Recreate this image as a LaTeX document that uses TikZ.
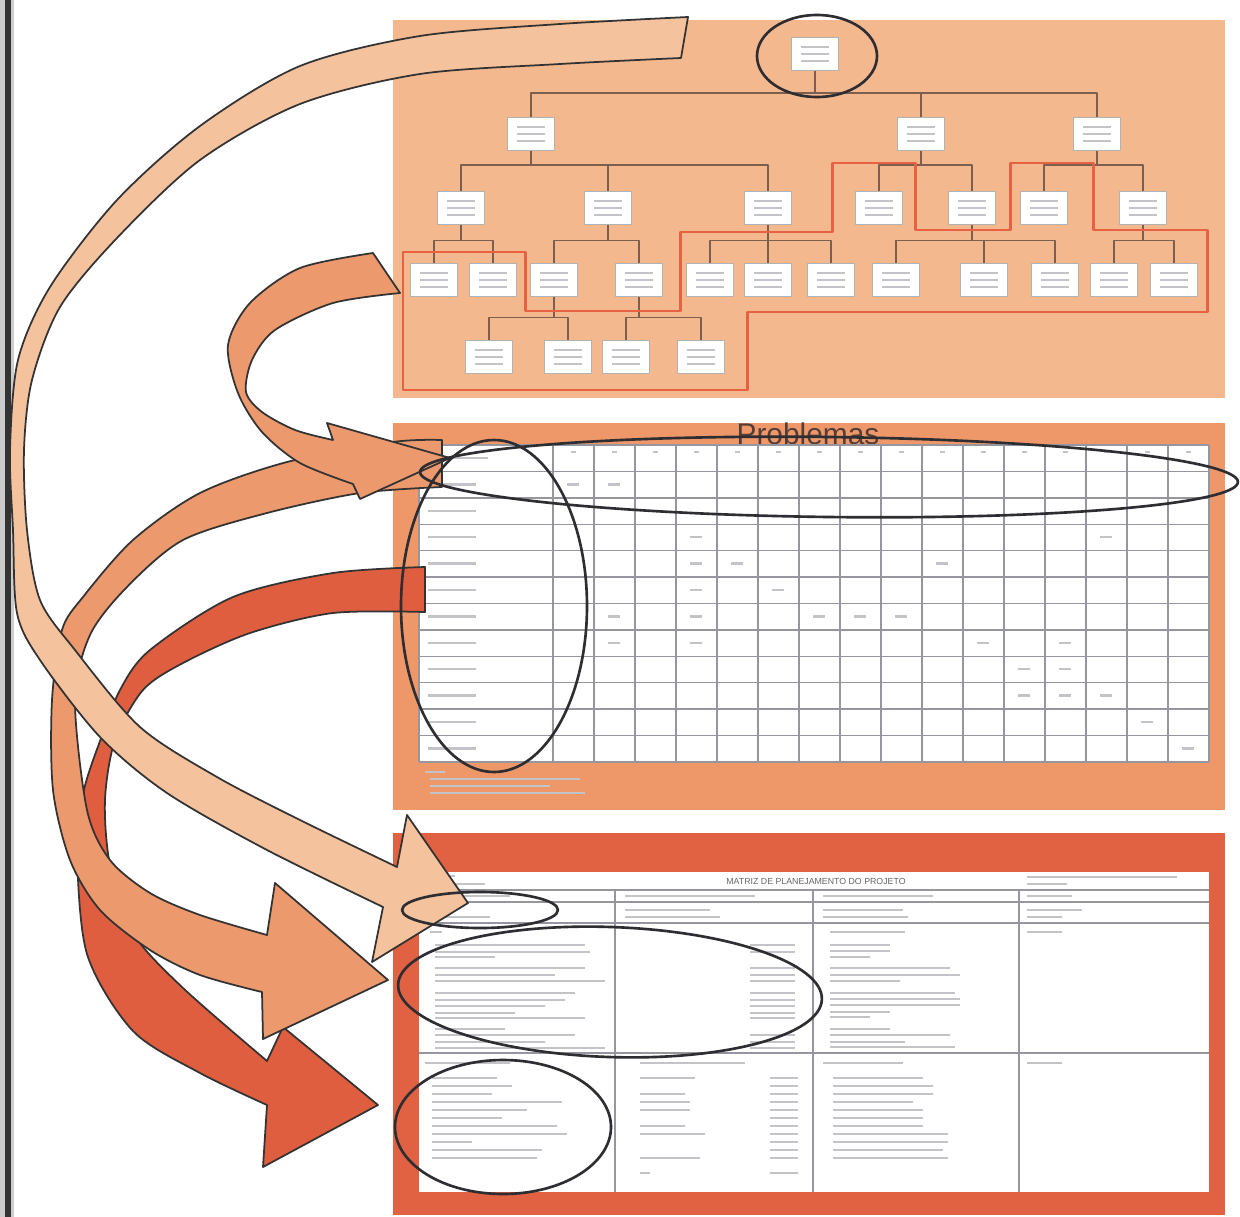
\documentclass[tikz,border=0pt]{standalone}
\usepackage{fontspec}
\setmainfont{Liberation Sans}

\definecolor{panelA}{RGB}{243,184,142}
\definecolor{panelB}{RGB}{238,152,106}
\definecolor{panelC}{RGB}{225,98,66}
\definecolor{arrLight}{RGB}{245,194,158}
\definecolor{arrMid}{RGB}{237,153,110}
\definecolor{arrRed}{RGB}{224,94,64}
\definecolor{treeLine}{RGB}{125,95,80}
\definecolor{hiRed}{RGB}{230,98,66}
\definecolor{ringCol}{RGB}{45,45,50}
\definecolor{gridCol}{RGB}{150,150,160}
\definecolor{txtGray}{RGB}{195,195,200}

\tikzset{
  tbox/.style={draw=gray!60, fill=white, minimum width=4.7mm, minimum height=3.3mm,
    inner sep=0pt, line width=0.4pt,
    path picture={\foreach \dy in {0.7,0,-0.7}
      \draw[txtGray, line width=0.5pt] ([xshift=-1.4mm, yshift=\dy mm]path picture bounding box.center) -- ++(2.8mm,0);}},
  link/.style={treeLine, line width=0.45pt},
  ribbon/.style={draw=black!80, line width=0.5pt, line join=round},
  ring/.style={ringCol, line width=0.75pt},
  grid/.style={gridCol, line width=0.4pt},
  bar/.style={txtGray, line width=0.7pt},
}

\begin{document}
\begin{tikzpicture}[x=0.1mm, y=-0.1mm, line join=round]
  \useasboundingbox (0,0) rectangle (1240,1217);
  \fill[white] (0,0) rectangle (1240,1217);
  % binding shadow
  \fill[black!20] (0,0) rectangle (14,1217);
  \fill[black!80] (5,0) rectangle (11,1217);

  % Panels
  \fill[panelA] (393,20) rectangle (1225,398);
  \fill[panelB] (393,423) rectangle (1225,810);
  \fill[panelC] (393,833) rectangle (1225,1215);

  % Tree: levels
  \node[tbox] (R) at (815,54) {};
  \node[tbox] (A) at (531,134) {};
  \node[tbox] (B) at (921,134) {};
  \node[tbox] (C) at (1097,134) {};
  \node[tbox] (A1) at (461,208) {};
  \node[tbox] (A2) at (608,208) {};
  \node[tbox] (A3) at (768,208) {};
  \node[tbox] (B1) at (879,208) {};
  \node[tbox] (B2) at (972,208) {};
  \node[tbox] (C1) at (1044,208) {};
  \node[tbox] (C2) at (1143,208) {};
  \node[tbox] (A1a) at (434,280) {};
  \node[tbox] (A1b) at (493,280) {};
  \node[tbox] (A2a) at (554,280) {};
  \node[tbox] (A2b) at (639,280) {};
  \node[tbox] (A3a) at (710,280) {};
  \node[tbox] (A3b) at (768,280) {};
  \node[tbox] (A3c) at (831,280) {};
  \node[tbox] (B2a) at (896,280) {};
  \node[tbox] (B2b) at (984,280) {};
  \node[tbox] (B2c) at (1055,280) {};
  \node[tbox] (C2a) at (1114,280) {};
  \node[tbox] (C2b) at (1174,280) {};
  \node[tbox] (A2a1) at (489,357) {};
  \node[tbox] (A2a2) at (568,357) {};
  \node[tbox] (A2b1) at (626,357) {};
  \node[tbox] (A2b2) at (701,357) {};

  % Tree: links
  \foreach \c in {A,B,C} \draw[link] (R.south) -- ++(0,22) -| (\c.north);
  \foreach \c in {A1,A2,A3} \draw[link] (A.south) -- ++(0,14) -| (\c.north);
  \foreach \c in {B1,B2} \draw[link] (B.south) -- ++(0,14) -| (\c.north);
  \foreach \c in {C1,C2} \draw[link] (C.south) -- ++(0,14) -| (\c.north);
  \foreach \p/\c in {A1/A1a,A1/A1b,A2/A2a,A2/A2b,A3/A3a,A3/A3b,A3/A3c,B2/B2a,B2/B2b,B2/B2c,C2/C2a,C2/C2b}
    \draw[link] (\p.south) -- ++(0,15.5) -| (\c.north);
  \foreach \p/\c in {A2a/A2a1,A2a/A2a2,A2b/A2b1,A2b/A2b2}
    \draw[link] (\p.south) -- ++(0,20.5) -| (\c.north);

  % Tree: highlighted outline
  \draw[hiRed, line width=0.85pt] (403,252) -- (525,252) -- (525,311) -- (680,311) -- (680,232)
    -- (832,232) -- (832,163) -- (915,163) -- (915,230) -- (1010,230) -- (1010,163)
    -- (1093,163) -- (1093,230) -- (1207,230) -- (1207,312) -- (747,312) -- (747,390)
    -- (403,390) -- cycle;

  % Matrix of problems
  \node[font=\fontsize{8.5}{10}\selectfont, text={rgb,255:red,85;green,62;blue,55}] (probTitle) at (808,434) {Problemas};
  \fill[white] (419,445) rectangle (1209,762);
  \foreach \r in {0,...,12} \draw[grid] (419,{445+\r*26.4}) -- (1209,{445+\r*26.4});
  \draw[grid] (419,445) -- (419,762);
  \foreach \c in {0,...,16} \draw[grid] ({553+\c*41},445) -- ({553+\c*41},762);
  \draw[bar] (428,458) -- ++(60,0);
  \foreach \c in {0,...,15} \draw[bar] ({571+\c*41},452) -- ++(5,0);
  \foreach \r in {1,...,11} \draw[bar] (428,{458+\r*26.4}) -- ++(48,0);
  \foreach \c/\r in {0/1,1/1,3/3,13/3,3/4,4/4,9/4,3/5,5/5,1/6,3/6,6/6,7/6,8/6,1/7,3/7,10/7,12/7,11/8,12/8,11/9,12/9,13/9,14/10,15/11}
    \draw[bar] ({567+\c*41},{458+\r*26.4}) -- ++(12,0);
  \draw[bar] (425,772) -- ++(20,0);
  \foreach \yy/\len in {779/150,786/120,793/155} \draw[bar] (430,\yy) -- ++(\len,0);

  % Planning matrix
  \fill[white] (419,872) rectangle (1209,1192);
  \foreach \yy in {890,902,923,1053} \draw[grid] (419,\yy) -- (1209,\yy);
  \foreach \xx in {615,813,1019} \draw[grid] (\xx,890) -- (\xx,1192);
  \node[font=\fontsize{2.5}{3}\selectfont, text=black!60] (mTitle) at (816,881) {MATRIZ DE PLANEJAMENTO DO PROJETO};
  \draw[bar] (425,876) -- ++(30,0);
  \draw[bar] (425,884) -- ++(60,0);
  \draw[bar] (1027,877) -- ++(150,0);
  \draw[bar] (1027,884) -- ++(40,0);
  \foreach \xx/\len in {425/85,625/130,823/110,1027/45} \draw[bar] (\xx,896) -- ++(\len,0);
  \foreach \xx/\yy/\len in {430/917/60,625/910/85,625/917/95,823/910/80,823/917/85,1027/910/55,1027/917/35}
    \draw[bar] (\xx,\yy) -- ++(\len,0);
  % upper body
  \draw[bar] (430,932) -- ++(12,0);
  \foreach \yy/\len in {945/150,952/155,957/60,968/150,975/120,981/170,993/140,1000/130,1006/110,1013/80,1018/150,1029/70,1035/140,1042/110,1048/170}
    \draw[bar] (435,\yy) -- ++(\len,0);
  \foreach \yy in {945,952,968,975,981,993,1000,1006,1013,1018,1035,1042,1048}
    \draw[bar] (750,\yy) -- ++(45,0);
  \foreach \yy/\len in {932/75,945/60,951/60,957/40,968/120,975/130,981/70,993/125,999/130,1005/130,1012/60,1017/40,1029/60,1035/120,1042/75,1047/125}
    \draw[bar] (830,\yy) -- ++(\len,0);
  \draw[bar] (1027,932) -- ++(35,0);
  % lower body
  \foreach \xx/\len in {425/85,640/105,823/80,1027/35} \draw[bar] (\xx,1063) -- ++(\len,0);
  \foreach \yy/\len in {1078/65,1086/80,1094/60,1102/130,1110/95,1118/70,1126/125,1134/135,1142/40,1150/110,1158/105}
    \draw[bar] (432,\yy) -- ++(\len,0);
  \foreach \yy/\len in {1078/55,1094/45,1102/50,1110/50,1126/45,1134/65,1158/60,1173/10}
    \draw[bar] (640,\yy) -- ++(\len,0);
  \foreach \yy in {1078,1086,1094,1102,1110,1118,1126,1134,1142,1150,1158,1173}
    \draw[bar] (770,\yy) -- ++(28,0);
  \foreach \yy/\len in {1078/90,1086/100,1094/100,1102/80,1110/90,1118/90,1126/90,1134/115,1142/115,1150/110,1158/115}
    \draw[bar] (833,\yy) -- ++(\len,0);

  % Red arrow (matrix -> lower block)
  \filldraw[ribbon, fill=arrRed] (425,567) -- (425,612)
    -- plot[smooth] coordinates {(425,612) (333,613) (250,633) (183,663) (143,690) (115,740) (105,800) (110,865) (133,933) (183,988) (267,1061)}
    -- (283,1027) -- (378,1105) -- (263,1167) -- (267,1105)
    -- plot[smooth] coordinates {(267,1105) (200,1073) (133,1031) (87,954) (77,848) (84,790) (100,741) (120,690) (150,650) (233,597) (333,573) (425,567)}
    -- cycle;

  % Middle arrow (matrix -> middle block)
  \filldraw[ribbon, fill=arrMid] (442,440) -- (442,487)
    -- plot[smooth] coordinates {(442,487) (360,493) (267,513) (183,540) (127,587) (90,635) (75,700) (87,810) (110,860) (150,893) (200,915) (267,935)}
    -- (275,883) -- (388,980) -- (263,1039) -- (262,992)
    -- plot[smooth] coordinates {(262,992) (200,975) (150,950) (100,910) (70,860) (53,790) (52,700) (62,630) (83,597) (133,540) (200,493) (287,462) (393,442) (442,440)}
    -- cycle;

  % Curl arrow (tree -> matrix)
  \filldraw[ribbon, fill=arrMid] (373,253) -- (400,293)
    -- plot[smooth] coordinates {(400,293) (333,303) (275,330) (252,360) (246,392) (262,412) (295,430) (333,440)}
    -- (327,423) -- (450,458) -- (360,499) -- (353,484)
    -- plot[smooth] coordinates {(353,484) (300,463) (262,432) (238,393) (228,345) (250,303) (300,268) (373,253)}
    -- cycle;

  % Light arrow (root -> top block)
  \filldraw[ribbon, fill=arrLight] (688,17) -- (681,58)
    -- plot[smooth] coordinates {(681,58) (560,64) (420,74) (300,104) (200,160) (117,238) (60,307) (32,380) (24,450) (27,530) (40,600) (75,650) (140,727) (217,777) (300,820) (397,867)}
    -- (407,815) -- (468,903) -- (372,962) -- (383,907)
    -- plot[smooth] coordinates {(383,907) (267,850) (167,793) (100,737) (40,660) (17,613) (13,530) (10,450) (18,360) (50,287) (117,200) (200,126) (300,66) (420,36) (560,24) (688,17)}
    -- cycle;

  % Rings
  \draw[ring] (817,56) ellipse (60 and 41);
  \draw[ring, rotate around={-0.7:(829,477)}] (829,477) ellipse (409 and 40);
  \draw[ring] (494,606) ellipse (93 and 166);
  \draw[ring] (480,910) ellipse (78 and 18);
  \draw[ring, rotate around={-2:(610,992)}] (610,992) ellipse (212 and 65);
  \draw[ring] (503,1127) ellipse (108 and 67);
\end{tikzpicture}
\end{document}
